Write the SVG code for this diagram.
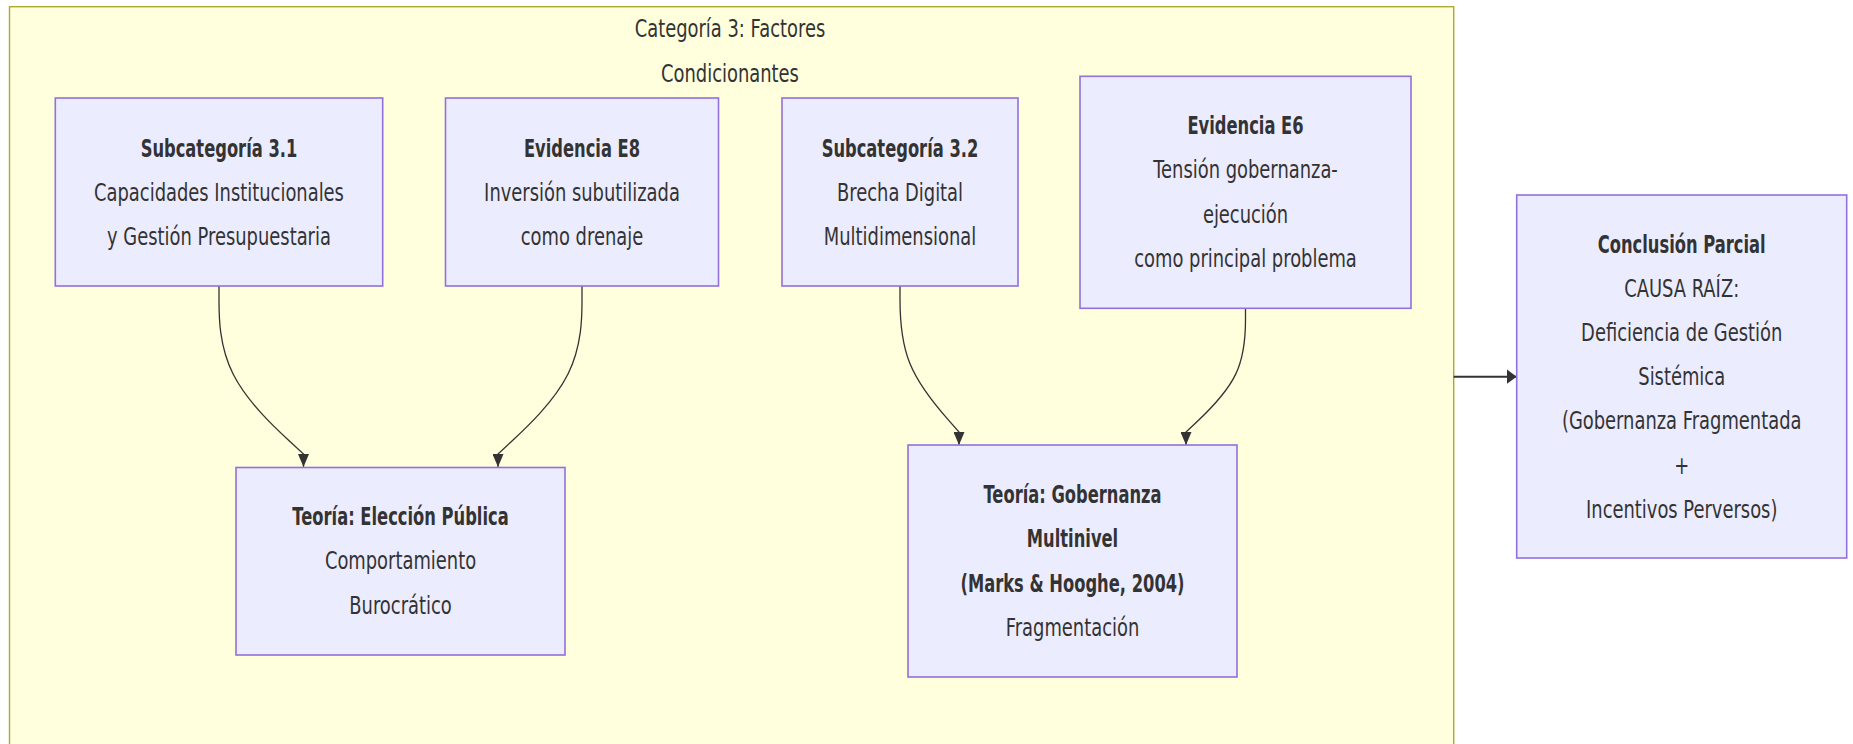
<svg xmlns="http://www.w3.org/2000/svg" width="1853" height="744" viewBox="0 0 1853 744">
  <defs>
    <style>
      .cluster { fill: #ffffde; stroke: #aaaa33; stroke-width: 1.4; }
      .node { fill: #ececff; stroke: #9370db; stroke-width: 1.6; }
      .edge { fill: none; stroke: #333333; stroke-width: 1.3; }
      .edge-h { fill: none; stroke: #333333; stroke-width: 2; }
      .t { font-family: "DejaVu Sans", "Liberation Sans", sans-serif; font-size: 24px; fill: #333333; text-anchor: middle; }
      .b { font-weight: bold; }
    </style>
    <marker id="arrowV" viewBox="0 0 13 11" refX="13" refY="5.5" markerWidth="13" markerHeight="11" markerUnits="userSpaceOnUse" orient="auto">
      <path d="M0,0 L13,5.5 L0,11 z" fill="#333333"/>
    </marker>
    <marker id="arrowH" viewBox="0 0 10 14.6" refX="10" refY="7.3" markerWidth="10" markerHeight="14.6" markerUnits="userSpaceOnUse" orient="auto">
      <path d="M0,0 L10,7.3 L0,14.6 z" fill="#333333"/>
    </marker>
  </defs>

  <rect width="1853" height="744" fill="#ffffff"/>

  <!-- Subgraph: Categoría 3 -->
  <g id="cat3">
    <rect class="cluster" x="9.5" y="6.7" width="1444.2" height="760"/>
    <text class="t" transform="translate(730,0) scale(0.746,1)" x="0" y="36.7">Categoría 3: Factores<tspan x="0" dy="45">Condicionantes</tspan></text>
  </g>

  <!-- Connectors -->
  <g id="edges">
    <path class="edge" marker-end="url(#arrowV)" d="M219,286 L219,301 C219,316 219,346 233.1,374 C247.2,402 275.3,428 289.4,441 L303.5,454 L303.5,467"/>
    <path class="edge" marker-end="url(#arrowV)" d="M582,286 L582,301 C582,316 582,346 568,374 C554,402 526,428 512,441 L498,454 L498,467"/>
    <path class="edge" marker-end="url(#arrowV)" d="M900,286 L900,299.3 C900,312.5 900,339 909.8,363.3 C919.7,387.7 939.3,409.8 949.2,420.9 L959,432 L959,445"/>
    <path class="edge" marker-end="url(#arrowV)" d="M1245.5,308.3 L1245.5,319.7 C1245.5,331 1245.5,353.8 1235.6,374.4 C1225.7,395 1205.8,413.5 1195.9,422.8 L1186,432 L1186,445"/>
    <path class="edge-h" marker-end="url(#arrowH)" d="M1453.7,376.7 L1516.7,376.7"/>
  </g>

  <g id="sub31">
    <rect class="node" x="55.3" y="98" width="327.4" height="188"/>
    <text class="t b" transform="translate(219,0) scale(0.68,1)" x="0" y="157">Subcategoría 3.1</text>
    <text class="t" transform="translate(219,0) scale(0.746,1)" x="0" y="201.2">Capacidades Institucionales<tspan x="0" dy="44.2">y Gestión Presupuestaria</tspan></text>
  </g>

  <g id="e8">
    <rect class="node" x="445.5" y="98" width="273" height="188"/>
    <text class="t b" transform="translate(582,0) scale(0.68,1)" x="0" y="157">Evidencia E8</text>
    <text class="t" transform="translate(582,0) scale(0.746,1)" x="0" y="201.2">Inversión subutilizada<tspan x="0" dy="44.2">como drenaje</tspan></text>
  </g>

  <g id="sub32">
    <rect class="node" x="782" y="98" width="236" height="188"/>
    <text class="t b" transform="translate(900,0) scale(0.68,1)" x="0" y="157">Subcategoría 3.2</text>
    <text class="t" transform="translate(900,0) scale(0.746,1)" x="0" y="201.2">Brecha Digital<tspan x="0" dy="44.2">Multidimensional</tspan></text>
  </g>

  <g id="e6">
    <rect class="node" x="1080" y="76.3" width="331" height="232"/>
    <text class="t b" transform="translate(1245.5,0) scale(0.68,1)" x="0" y="134.2">Evidencia E6</text>
    <text class="t" transform="translate(1245.5,0) scale(0.746,1)" x="0" y="178.4">Tensión gobernanza-<tspan x="0" dy="44.2">ejecución</tspan><tspan x="0" dy="44.2">como principal problema</tspan></text>
  </g>

  <g id="eleccion">
    <rect class="node" x="236" y="467.5" width="329" height="187.5"/>
    <text class="t b" transform="translate(400.5,0) scale(0.68,1)" x="0" y="525.3">Teoría: Elección Pública</text>
    <text class="t" transform="translate(400.5,0) scale(0.746,1)" x="0" y="569.5">Comportamiento<tspan x="0" dy="44.2">Burocrático</tspan></text>
  </g>

  <g id="gobernanza">
    <rect class="node" x="908" y="445" width="329" height="232"/>
    <text class="t b" transform="translate(1072.5,0) scale(0.68,1)" x="0" y="503.2">Teoría: Gobernanza<tspan x="0" dy="44.2">Multinivel</tspan><tspan x="0" dy="44.2">(Marks &amp; Hooghe, 2004)</tspan></text>
    <text class="t" transform="translate(1072.5,0) scale(0.746,1)" x="0" y="635.8">Fragmentación</text>
  </g>

  <g id="conclusion">
    <rect class="node" x="1516.7" y="195" width="330" height="363"/>
    <text class="t b" transform="translate(1681.7,0) scale(0.68,1)" x="0" y="252.7">Conclusión Parcial</text>
    <text class="t" transform="translate(1681.7,0) scale(0.746,1)" x="0" y="296.9">CAUSA RAÍZ:<tspan x="0" dy="44.2">Deficiencia de Gestión</tspan><tspan x="0" dy="44.2">Sistémica</tspan><tspan x="0" dy="44.2">(Gobernanza Fragmentada</tspan><tspan x="0" dy="44.2">+</tspan><tspan x="0" dy="44.2">Incentivos Perversos)</tspan></text>
  </g>
</svg>
